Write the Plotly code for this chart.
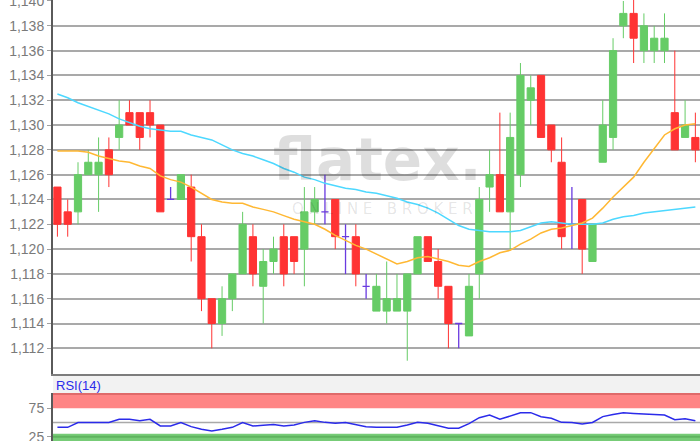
import plotly.graph_objects as go

# ---------------- data ----------------
opens = [1.125, 1.123, 1.123, 1.126, 1.126, 1.128, 1.129, 1.131, 1.131, 1.131,
         1.130, 1.124, 1.124, 1.125, 1.121, 1.116, 1.114, 1.116, 1.118, 1.121,
         1.117, 1.119, 1.121, 1.121, 1.120, 1.123, 1.123, 1.124, 1.121, 1.121,
         1.117, 1.115, 1.115, 1.115, 1.115, 1.118, 1.121, 1.119, 1.117, 1.114,
         1.113, 1.118, 1.125, 1.126, 1.123, 1.126, 1.132, 1.134, 1.130, 1.127,
         1.122, 1.124, 1.119, 1.127, 1.129, 1.138, 1.139, 1.136, 1.136, 1.136,
         1.131, 1.129, 1.129]
highs = [1.125, 1.124, 1.127, 1.128, 1.129, 1.129, 1.132, 1.132, 1.131, 1.132,
         1.130, 1.125, 1.126, 1.126, 1.122, 1.116, 1.117, 1.118, 1.123, 1.122,
         1.120, 1.121, 1.122, 1.121, 1.125, 1.125, 1.126, 1.124, 1.122, 1.122,
         1.118, 1.118, 1.119, 1.118, 1.118, 1.121, 1.121, 1.120, 1.117, 1.114,
         1.118, 1.125, 1.128, 1.131, 1.131, 1.135, 1.134, 1.134, 1.130, 1.129,
         1.125, 1.124, 1.122, 1.132, 1.137, 1.140, 1.1405, 1.139, 1.138, 1.139,
         1.136, 1.132, 1.131]
lows = [1.121, 1.121, 1.122, 1.126, 1.123, 1.125, 1.128, 1.130, 1.128, 1.129,
        1.123, 1.124, 1.124, 1.119, 1.115, 1.112, 1.113, 1.115, 1.118, 1.117,
        1.114, 1.118, 1.117, 1.118, 1.117, 1.122, 1.122, 1.120, 1.118, 1.117,
        1.116, 1.115, 1.114, 1.115, 1.111, 1.118, 1.119, 1.116, 1.112, 1.112,
        1.113, 1.116, 1.123, 1.123, 1.120, 1.125, 1.130, 1.129, 1.127, 1.120,
        1.120, 1.118, 1.119, 1.127, 1.128, 1.137, 1.135, 1.135, 1.135, 1.135,
        1.128, 1.129, 1.127]
closes = [1.122, 1.122, 1.126, 1.127, 1.127, 1.126, 1.130, 1.130, 1.129, 1.130,
          1.123, 1.124, 1.126, 1.121, 1.116, 1.114, 1.116, 1.118, 1.122, 1.118,
          1.119, 1.120, 1.118, 1.119, 1.123, 1.124, 1.123, 1.121, 1.121, 1.118,
          1.117, 1.117, 1.116, 1.116, 1.118, 1.121, 1.119, 1.117, 1.114, 1.114,
          1.117, 1.124, 1.126, 1.123, 1.129, 1.134, 1.133, 1.129, 1.128, 1.121,
          1.122, 1.120, 1.122, 1.130, 1.136, 1.139, 1.137, 1.138, 1.137, 1.137,
          1.128, 1.130, 1.128]

ma_short = [1.1279, 1.1279, 1.1279, 1.1278, 1.1275, 1.1273, 1.1271, 1.1270, 1.1267, 1.1265,
            1.1259, 1.1256, 1.1254, 1.1250, 1.1245, 1.1240, 1.1238, 1.1237, 1.1237, 1.1234,
            1.1232, 1.1230, 1.1227, 1.1224, 1.1222, 1.1220, 1.1216, 1.1211, 1.1207, 1.1203,
            1.1200, 1.1196, 1.1192, 1.1188, 1.1190, 1.1193, 1.1194, 1.1192, 1.1190, 1.1187,
            1.1186, 1.1190, 1.1193, 1.1197, 1.1199, 1.1204, 1.1208, 1.1213, 1.1216, 1.1217,
            1.1219, 1.1221, 1.1225, 1.1233, 1.1242, 1.1250, 1.1258, 1.1270, 1.1281, 1.1292,
            1.1297, 1.1300, 1.1301]
ma_long = [1.1325, 1.1322, 1.1318, 1.1315, 1.1312, 1.1309, 1.1305, 1.1302, 1.1299, 1.1297,
           1.1296, 1.1295, 1.1295, 1.1292, 1.1290, 1.1288, 1.1284, 1.1280, 1.1277, 1.1275,
           1.1272, 1.1269, 1.1265, 1.1262, 1.1258, 1.1256, 1.1253, 1.1251, 1.1249, 1.1248,
           1.1246, 1.1245, 1.1243, 1.1241, 1.1238, 1.1236, 1.1233, 1.1229, 1.1224, 1.1219,
           1.1216, 1.1215, 1.1214, 1.1214, 1.1214, 1.1215, 1.1218, 1.1221, 1.1222, 1.1221,
           1.1220, 1.1220, 1.1220, 1.1221, 1.1224, 1.1226, 1.1227, 1.1229, 1.1230, 1.1231,
           1.1232, 1.1233, 1.1234]
rsi = [41.5, 41.5, 50, 50, 50, 50, 55.6, 55.6, 53, 55.6,
       43.8, 43.8, 50, 42.7, 38, 35, 38, 41.5, 50, 43.8,
       45, 46.5, 43.8, 45.5, 50.2, 53, 50.2, 48.5, 50, 46,
       42.7, 41.5, 41.5, 41.5, 45.5, 50.2, 48.5, 43.8, 40, 40,
       48, 58.5, 63.2, 55.6, 61.5, 67, 67.3, 60, 57.4, 50.2,
       50, 47.5, 50, 60.3, 64, 67.3, 66, 64.5, 64, 63.2,
       55, 56.4, 53]

price_ticks = [1.112, 1.114, 1.116, 1.118, 1.120, 1.122, 1.124, 1.126, 1.128,
               1.130, 1.132, 1.134, 1.136, 1.138, 1.140]
rsi_ticks = [25, 75]
rsi_label = "RSI(14)"

# ---------------- figure ----------------
idx = list(range(len(opens)))
is_doji = [o == c for o, c in zip(opens, closes)]

def pick(arr, want):
    return [v for v, d in zip(arr, is_doji) if d == want]

RED = "#ff3333"
GREEN = "#66cc66"
DOJI = "#6a3be0"

fig = go.Figure()

fig.add_trace(go.Candlestick(
    x=pick(idx, False), open=pick(opens, False), high=pick(highs, False),
    low=pick(lows, False), close=pick(closes, False),
    increasing=dict(line=dict(color=GREEN, width=1), fillcolor=GREEN),
    decreasing=dict(line=dict(color=RED, width=1), fillcolor=RED),
    whiskerwidth=0, showlegend=False, hoverinfo="skip"))

fig.add_trace(go.Candlestick(
    x=pick(idx, True), open=pick(opens, True), high=pick(highs, True),
    low=pick(lows, True), close=pick(closes, True),
    increasing=dict(line=dict(color=DOJI, width=1.3), fillcolor=DOJI),
    decreasing=dict(line=dict(color=DOJI, width=1.3), fillcolor=DOJI),
    whiskerwidth=0, showlegend=False, hoverinfo="skip"))

fig.add_trace(go.Scatter(x=idx, y=ma_long, mode="lines",
                         line=dict(color="#4dd8ff", width=1.5),
                         showlegend=False, hoverinfo="skip"))
fig.add_trace(go.Scatter(x=idx, y=ma_short, mode="lines",
                         line=dict(color="#ffb833", width=1.5),
                         showlegend=False, hoverinfo="skip"))

fig.add_trace(go.Scatter(x=idx, y=rsi, mode="lines", xaxis="x2", yaxis="y2",
                         line=dict(color="#2b2bea", width=1.5),
                         showlegend=False, hoverinfo="skip"))

W, H = 700, 441
L = 53
main_bottom_px = 374
rsi_top_px = 393

xr = [-0.43, 62.45]
tickfont = dict(family="Liberation Sans, Arial, sans-serif", size=14, color="#7a7a7a")

fig.update_layout(
    width=W, height=H,
    margin=dict(l=L, r=0, t=0, b=0, autoexpand=False),
    paper_bgcolor="white", plot_bgcolor="white",
    separators=",.",
    boxgap=0.3, boxgroupgap=0,
    xaxis=dict(domain=[0, 1], range=xr, showgrid=False, zeroline=False,
               showticklabels=False, ticks="", rangeslider=dict(visible=False),
               showline=True, linecolor="#7d7d7d", linewidth=2, anchor="y",
               automargin=False),
    yaxis=dict(domain=[1 - main_bottom_px / H, 1], range=[1.10993, 1.14008],
               tickvals=price_ticks, tickformat=".3f", showgrid=True,
               gridcolor="#a9a9a9", gridwidth=1.5, zeroline=False,
               showline=True, linecolor="#5a5a5a", linewidth=2,
               ticks="outside", ticklen=4, tickcolor="#a0a0a0",
               tickfont=tickfont, anchor="x", automargin=False,
               ticklabeloverflow="allow"),
    xaxis2=dict(domain=[0, 1], range=xr, showgrid=False, zeroline=False,
                showticklabels=False, ticks="", anchor="y2",
                rangeslider=dict(visible=False), automargin=False),
    yaxis2=dict(domain=[0, (H - rsi_top_px) / H], range=[17.4, 101.9],
                tickvals=rsi_ticks, showgrid=False, zeroline=False,
                showline=True, linecolor="#5a5a5a", linewidth=2,
                ticks="outside", ticklen=4, tickcolor="#a0a0a0",
                tickfont=tickfont, anchor="x2", automargin=False,
                ticklabeloverflow="allow"),
    shapes=[
        dict(type="rect", xref="paper", yref="paper", x0=0, x1=1,
             y0=(H - rsi_top_px) / H, y1=(H - 376) / H,
             fillcolor="#f2f2f2", line=dict(width=0), layer="below"),
        dict(type="rect", xref="x2 domain", yref="y2", x0=0, x1=1, y0=75, y1=100,
             fillcolor="#ff8585", line=dict(width=0), layer="below"),
        dict(type="line", xref="x2 domain", yref="y2", x0=0, x1=1, y0=100, y1=100,
             line=dict(color="#e06a6a", width=2), layer="below"),
        dict(type="rect", xref="x2 domain", yref="y2", x0=0, x1=1, y0=0, y1=30,
             fillcolor="#77cc77", line=dict(width=0), layer="below"),
        dict(type="line", xref="x2 domain", yref="y2", x0=0, x1=1, y0=25, y1=25,
             line=dict(color="#5fb45f", width=2), layer="below"),
        dict(type="line", xref="x2 domain", yref="y2", x0=0, x1=1, y0=50, y1=50,
             line=dict(color="#a9a9a9", width=1.5), layer="below"),
    ],
    annotations=[
        dict(text="<b>flatex.</b>", xref="paper", yref="paper",
             x=(377 - L) / (W - L), y=1 - 160 / H, xanchor="center", yanchor="middle",
             showarrow=False,
             font=dict(family="DejaVu Sans, sans-serif", size=58, color="rgba(0,0,0,0.13)")),
        dict(text="O N L I N E   B R O K E R", xref="paper", yref="paper",
             x=(382 - L) / (W - L), y=1 - 209 / H, xanchor="center", yanchor="middle",
             showarrow=False,
             font=dict(family="DejaVu Sans, sans-serif", size=15, color="rgba(0,0,0,0.11)")),
        dict(text=rsi_label, xref="paper", yref="paper",
             x=0.001, y=1 - 385 / H, xanchor="left", yanchor="middle", showarrow=False,
             font=dict(family="Liberation Sans, Arial, sans-serif", size=13, color="#2b2bea")),
    ],
)

fig.write_html("out.html", config={"displayModeBar": False},
               post_script="document.body.style.margin='0';document.body.style.padding='0';")
